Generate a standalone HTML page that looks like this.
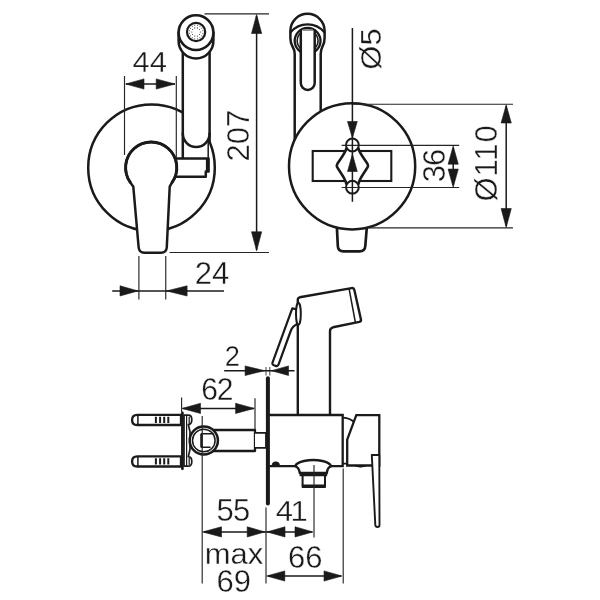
<!DOCTYPE html>
<html lang="en">
<head>
<meta charset="utf-8">
<title>Bidet mixer technical drawing</title>
<style>
  html, body { margin: 0; padding: 0; background: #fff; }
  body { width: 600px; height: 600px; overflow: hidden; }
  svg { display: block; filter: grayscale(1); }
  .o { fill: none; stroke: #1a1a1a; stroke-width: 2.5; stroke-linejoin: round; stroke-linecap: round; }
  .w { fill: #fff; stroke: #1a1a1a; stroke-width: 2.5; stroke-linejoin: round; stroke-linecap: round; }
  .m { fill: none; stroke: #1a1a1a; stroke-width: 1.5; stroke-linejoin: round; stroke-linecap: round; }
  .e { fill: none; stroke: #262626; stroke-width: 1.15; }
  .d { fill: none; stroke: #1a1a1a; stroke-width: 1.5; }
  .a { fill: #1a1a1a; stroke: #1a1a1a; stroke-width: 0.6; stroke-linejoin: round; }
  text { font-family: "Liberation Sans", sans-serif; font-size: 31px; fill: #1a1a1a; text-anchor: middle; stroke: #fff; stroke-width: 0.35px; paint-order: fill stroke; }
</style>
</head>
<body>
<svg width="600" height="600" viewBox="0 0 600 600">
<rect width="600" height="600" fill="#fff"/>

<g id="front">
  <circle class="o" cx="151.5" cy="167.7" r="63.3"/>
  <path d="M182.8 50 H209.6 V141 L208.2 141 V158 H182.8 Z" fill="#fff"/>
  <path class="o" d="M182.8 50 V158 M209.6 50 V141"/>
  <path class="m" d="M208.2 141 V158"/>
  <path class="o" d="M182.8 133.6 A13.4 13.4 0 0 0 209.6 133.6"/>
  <path class="w" d="M178.6 32.6 V41 A17.4 17.4 0 0 0 213.4 41 V32.6"/>
  <circle class="w" cx="196" cy="32.6" r="17.4" style="stroke-width:2.6"/>
  <circle class="m" cx="196.1" cy="32" r="9.1" style="stroke-width:2.2"/>
  <path fill="#2a2a2a" d="M199.85 32.00a0.55 0.55 0 1 0 1.1 0a0.55 0.55 0 1 0 -1.1 0Z M199.03 34.53a0.55 0.55 0 1 0 1.1 0a0.55 0.55 0 1 0 -1.1 0Z M196.88 36.09a0.55 0.55 0 1 0 1.1 0a0.55 0.55 0 1 0 -1.1 0Z M194.22 36.09a0.55 0.55 0 1 0 1.1 0a0.55 0.55 0 1 0 -1.1 0Z M192.07 34.53a0.55 0.55 0 1 0 1.1 0a0.55 0.55 0 1 0 -1.1 0Z M191.25 32.00a0.55 0.55 0 1 0 1.1 0a0.55 0.55 0 1 0 -1.1 0Z M192.07 29.47a0.55 0.55 0 1 0 1.1 0a0.55 0.55 0 1 0 -1.1 0Z M194.22 27.91a0.55 0.55 0 1 0 1.1 0a0.55 0.55 0 1 0 -1.1 0Z M196.88 27.91a0.55 0.55 0 1 0 1.1 0a0.55 0.55 0 1 0 -1.1 0Z M199.03 29.47a0.55 0.55 0 1 0 1.1 0a0.55 0.55 0 1 0 -1.1 0Z M202.26 33.35a0.5 0.5 0 1 0 1.0 0a0.5 0.5 0 1 0 -1.0 0Z M201.24 35.80a0.5 0.5 0 1 0 1.0 0a0.5 0.5 0 1 0 -1.0 0Z M199.36 37.67a0.5 0.5 0 1 0 1.0 0a0.5 0.5 0 1 0 -1.0 0Z M196.90 38.67a0.5 0.5 0 1 0 1.0 0a0.5 0.5 0 1 0 -1.0 0Z M194.25 38.66a0.5 0.5 0 1 0 1.0 0a0.5 0.5 0 1 0 -1.0 0Z M191.80 37.64a0.5 0.5 0 1 0 1.0 0a0.5 0.5 0 1 0 -1.0 0Z M189.93 35.76a0.5 0.5 0 1 0 1.0 0a0.5 0.5 0 1 0 -1.0 0Z M188.93 33.30a0.5 0.5 0 1 0 1.0 0a0.5 0.5 0 1 0 -1.0 0Z M188.94 30.65a0.5 0.5 0 1 0 1.0 0a0.5 0.5 0 1 0 -1.0 0Z M189.96 28.20a0.5 0.5 0 1 0 1.0 0a0.5 0.5 0 1 0 -1.0 0Z M191.84 26.33a0.5 0.5 0 1 0 1.0 0a0.5 0.5 0 1 0 -1.0 0Z M194.30 25.33a0.5 0.5 0 1 0 1.0 0a0.5 0.5 0 1 0 -1.0 0Z M196.95 25.34a0.5 0.5 0 1 0 1.0 0a0.5 0.5 0 1 0 -1.0 0Z M199.40 26.36a0.5 0.5 0 1 0 1.0 0a0.5 0.5 0 1 0 -1.0 0Z M201.27 28.24a0.5 0.5 0 1 0 1.0 0a0.5 0.5 0 1 0 -1.0 0Z M202.27 30.70a0.5 0.5 0 1 0 1.0 0a0.5 0.5 0 1 0 -1.0 0Z"/>
  <path class="w" d="M176 158.4 H208.6 V171.5 H205.8 V176.8 H176"/>
  <path class="o" d="M207.4 159 V171" style="stroke-width:3;stroke-linecap:butt"/>
  <path class="w" d="M130.3 182.4 A25.6 25.6 0 1 1 172.1 182.4 L169.7 186.7 L166.8 247 Q166.5 252.8 161 252.8 H144.5 Q139 252.8 138.6 247 L133.3 186.7 Z"/>
  <path class="o" d="M130.3 182.4 A25.6 25.6 0 1 1 172.1 182.4" style="stroke-width:2.9"/>
</g>

<path class="e" d="M124.5 76 V155 M176.3 76 V158"/>
<path class="d" d="M126 84 H175"/>
<path class="a" d="M125.7 84 L144.0 78.9 V89.1 Z M175 84 L156.2 78.9 V89.1 Z"/>
<text transform="translate(149.8 71.6) scale(1.0 0.955)">44</text>
<path class="e" d="M204.5 13.8 H269 M169.5 252.5 H269"/>
<path class="d" d="M256.6 16 V250"/>
<path class="a" d="M256.6 14.5 L251.50000000000003 33.5 H261.70000000000005 Z M256.6 250.8 L251.50000000000003 231.8 H261.70000000000005 Z"/>
<text transform="translate(249.3 135.7) rotate(-90) scale(1.0 1.0)">207</text>
<path class="e" d="M138.9 256 V299.5 M165.75 256 V299.5"/>
<path class="d" d="M112.2 290.9 H224"/>
<path class="a" d="M138 290.9 L120 285.79999999999995 V296.0 Z M166.6 290.9 L187.1 285.79999999999995 V296.0 Z"/>
<text transform="translate(212 283.7) scale(1.0 1.0)">24</text>
<g id="back">
  <path class="w" d="M294.7 140 V54 Q294.7 50 292.5 46.5 Q290.4 43 290.4 38 V30.9 A17.1 17.1 0 0 1 324.6 30.9 V38 Q324.6 43 322.5 46.5 Q320.7 50 320.7 54 V115"/>
  <path class="o" d="M290.6 32.3 A22 22 0 0 1 324.4 32.3" style="stroke-width:2.3"/>
  <path class="o" d="M300.6 51.7 A12.9 12.9 0 1 1 314.6 51.7" style="stroke-width:2.3"/>
  <path class="o" d="M300.7 48.6 A10.4 10.4 0 0 1 300.7 33 M314.5 33 A10.4 10.4 0 0 1 314.5 48.6" style="stroke-width:1.6"/>
  <path class="w" d="M300.8 30.5 V83 A6.95 6.95 0 0 0 314.7 83 V30.5"/>
  <path d="M302.5 30 H313" stroke="#777" stroke-width="1.6" fill="none"/>
  <path class="w" d="M336.8 225 L337.8 246 Q338 251.3 343.5 251.3 H359.5 Q365 251.3 365.3 246 L367 225" style="stroke-width:2.7"/>
  <circle class="w" cx="352.1" cy="166.3" r="63.1"/>
  <rect class="o" x="312.7" y="151" width="78.6" height="30" style="stroke-width:2.1;stroke-linejoin:miter"/>
  <path d="M352.4 140 L346.3 148.5 C345.5 153 340.5 158.5 337.3 163.8 Q336.3 165.6 337.3 167.4 C340.5 172.7 345.5 178.5 346.3 183.7 L352.4 192 L358.5 183.7 C359.3 178.5 364.3 172.7 367.5 167.4 Q368.5 165.6 367.5 163.8 C364.3 158.5 359.3 153 358.5 148.5 Z" fill="#fff"/>
  <path class="o" d="M346.3 148.5 C345.5 153 340.5 158.5 337.3 163.8 Q336.3 165.6 337.3 167.4 C340.5 172.7 345.5 178.5 346.3 183.7 M358.5 148.5 C359.3 153 364.3 158.5 367.5 163.8 Q368.5 165.6 367.5 167.4 C364.3 172.7 359.3 178.5 358.5 183.7" style="stroke-width:2.6"/>
  <circle class="m" cx="352.4" cy="145" r="6.4" style="fill:#fff;stroke-width:2"/>
  <circle class="m" cx="352.4" cy="187.2" r="6.4" style="fill:#fff;stroke-width:2"/>
</g>

<path class="e" d="M341.6 145.3 H459.2 M341.6 187.5 H459.2 M352 104.2 H513 M368.5 227.8 H513"/>
<path class="d" d="M352.4 28 V201.7 M453.2 148 V185 M506.2 106 V226"/>
<path class="a" d="M352.4 138 L347.5 121.5 H357.29999999999995 Z M352.4 154 L347.5 171.5 H357.29999999999995 Z M453.2 146 L448.09999999999997 164.2 H458.3 Z M453.2 187.3 L448.09999999999997 169.10000000000002 H458.3 Z M506.2 104.8 L501.09999999999997 123.0 H511.3 Z M506.2 227.5 L501.09999999999997 208.5 H511.3 Z"/>
<text transform="translate(380.8 49) rotate(-90) scale(1.0 0.96)">Ø5</text>
<text transform="translate(444.7 166.1) rotate(-90) scale(1.0 1.0)" style="letter-spacing:-1.0px">36</text>
<text transform="translate(496.6 163.0) rotate(-90) scale(1.0 1.0)" style="letter-spacing:0.9px">Ø110</text>
<g id="side">
  <path class="w" d="M181 414.8 H137.3 Q132.1 414.8 132.1 419.9 Q132.1 425 137.3 425 H181 Z" style="stroke-width:2.3"/>
  <path class="w" d="M181 456.3 H137.3 Q132.1 456.3 132.1 461.4 Q132.1 466.5 137.3 466.5 H181 Z" style="stroke-width:2.3"/>
  <path class="m" d="M137.9 415.5 V424.5 M137.9 457 V466"/>
  <path class="m" d="M155.9 416.8 V423 M160.1 416.8 V423 M164.2 416.8 V423 M168.3 416.8 V423 M155.9 458.3 V464.5 M160.1 458.3 V464.5 M164.2 458.3 V464.5 M168.3 458.3 V464.5" style="stroke-linecap:butt;stroke-width:2"/>
  <path class="w" d="M184 415.2 H188.3 Q191.8 415.2 191.8 419.8 Q191.8 424.4 188.3 424.6 L190 431.5 V449.5 L188.3 456.6 Q191.8 456.8 191.8 461.4 Q191.8 466 188.3 466.2 H184 Z" style="stroke-width:1.7"/>
  <path class="m" d="M186.6 416 V466 M189.2 417 V423.5 M189.2 458 V464.5" style="stroke-width:1.2"/>
  <path class="o" d="M182.4 412.8 V468.8" style="stroke-width:2.7"/>
  <path class="w" d="M212 430 H255 V451 H212" style="stroke-width:2.3"/>
  <path class="w" d="M255 432.8 H266 V447.8 H255" style="stroke-width:1.8"/>
  <circle class="w" cx="203.8" cy="440.5" r="14.1" style="stroke-width:2.5"/>
  <circle class="m" cx="203.8" cy="440.5" r="11.3" style="stroke-width:1.5"/>
  <path class="m" d="M213 433.7 H201.5 V447.3 H210"/>
  <path class="o" d="M201.5 433.7 V447.3" style="stroke-width:2.4;stroke-linecap:butt"/>
  <path d="M267.9 378.3 V503.5" stroke="#1a1a1a" stroke-width="4" stroke-linecap="round" fill="none"/>
  <path class="w" d="M297.8 414.5 V299.6 Q297.8 297.7 299.7 297.3 L351.6 288.1 Q353.8 287.7 354.3 289.8 L360.9 319.2 Q361.4 321.4 359.3 321.9 L333 327.3 Q330 328 330 331 V414.5" style="stroke-width:2.4"/>
  <path class="m" d="M349.2 289.3 L355.2 321.5"/>
  <path class="w" d="M292.3 308.4 L297 309.3 V324.3 Q292.6 326 290.7 331 L278.6 364.4 Q277.8 366.6 275.7 365.9 L273.9 365.3 Q271.8 364.5 272.6 362.4 Z" style="stroke-width:2.2"/>
  <ellipse class="w" cx="298.4" cy="313.8" rx="2.4" ry="11.1" style="stroke-width:2"/>
  <path class="w" d="M270 415 H342.7 V466.1 H331 M295 466.1 H270" style="stroke-linejoin:miter;stroke-width:2.3"/>
  <path class="a" d="M272 465.3 A3.8 3.6 0 0 1 279.6 465.3 Z"/>
  <path class="w" d="M295 466.2 Q297 462.4 304 461 Q313.3 459.1 322.5 461 Q329.3 462.4 331.2 466.2 Q327.6 467.2 326.8 473 H299.8 Q298.8 467.2 295 466.2 Z" style="stroke-width:2.4"/>
  <path class="w" d="M302.6 475 H325 V486 H302.6 Z" style="stroke-width:2"/>
  <path class="o" d="M299.6 474.6 H327.2 M301.8 486.3 H325.8" style="stroke-width:3.4; stroke-linecap:butt"/>
  <path class="m" d="M343.5 417.6 Q350 418.2 353.8 421.8 M343 463.6 H347" style="stroke-width:1.9"/>
  <path class="w" d="M356.3 415.2 H379.3 V465.5 H347.2 V439.7 Z" style="stroke-width:2.3;stroke-linejoin:miter"/>
  <path class="w" d="M371.8 455 H379.3 L379.5 525 Q379.5 527 377.5 527 Q375.5 527 375.3 525 Z" style="stroke-width:1.9"/>
  <path class="a" d="M355 466 Q360.5 468.5 366 466 Z"/>
</g>

<path class="e" d="M181.6 397.5 V412 M255 398.2 V430"/>
<path class="d" d="M183 408.4 H254"/>
<path class="a" d="M182 408.4 L200.5 403.29999999999995 V413.5 Z M254.3 408.4 L235.60000000000002 403.29999999999995 V413.5 Z"/>
<text transform="translate(216.8 399.9) scale(0.97 1.0)" style="letter-spacing:-1.2px">62</text>
<path class="e" d="M266 367 V375.5 M269.8 367 V375.5" style="stroke:#444;stroke-width:1"/>
<path class="d" d="M224.2 370.7 H294.5"/>
<path class="a" d="M264.6 370.7 L245.10000000000002 365.9 V375.5 Z M271.5 370.7 L288.5 365.9 V375.5 Z"/>
<text transform="translate(232.4 366.2) scale(0.88 0.96)">2</text>
<path class="e" d="M202.2 416 V583.5 M266 507.5 V583.5 M314 465 V537.5 M343.2 468.5 V583.5"/>
<path class="d" d="M204 531.9 H312 M268 576 H341"/>
<path class="a" d="M202.5 531.9 L221.5 526.8 V537.0 Z M264.9 531.9 L247.2 526.8 V537.0 Z M267 531.9 L285 526.8 V537.0 Z M313 531.9 L295 526.8 V537.0 Z M266.6 576 L284.8 570.9 V581.1 Z M342 576 L324 570.9 V581.1 Z"/>
<text transform="translate(233.1 520.5) scale(1.0 1.0)" style="letter-spacing:-0.6px">55</text>
<text transform="translate(290.4 520.5) scale(1.0 0.97)" style="letter-spacing:-2.5px">41</text>
<text transform="translate(234.0 563.6) scale(1.0 0.94)">max</text>
<text transform="translate(233.8 592.2) scale(1.0 1.0)">69</text>
<text transform="translate(305.2 567.5) scale(1.0 1.0)">66</text>
</svg>
</body>
</html>
